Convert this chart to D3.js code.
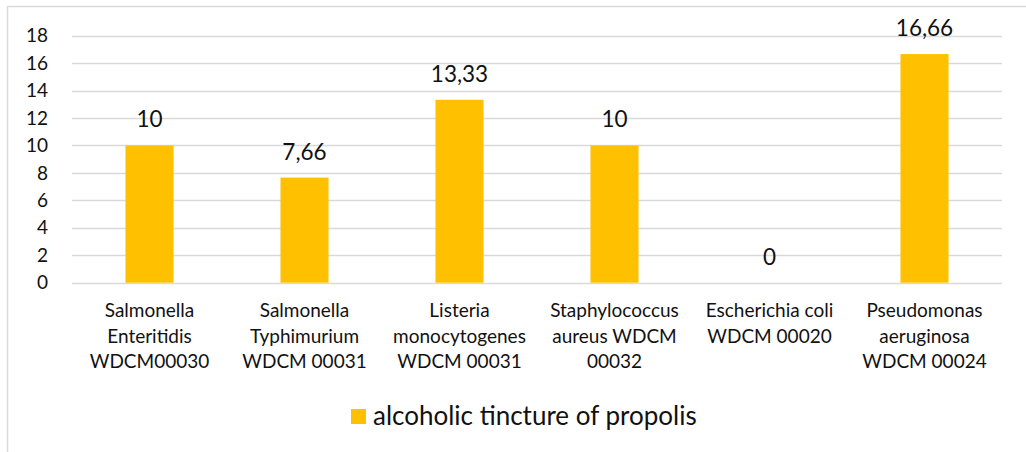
<!DOCTYPE html>
<html>
<head>
<meta charset="utf-8">
<script src="https://cdn.jsdelivr.net/npm/d3@7"></script>
<style>
  body { margin: 0; background: #fff; }
  svg { display: block; font-family: Lato, "Noto Sans", sans-serif; }
</style>
</head>
<body>
<div id="container"></div>
<script>
// chart data
const categories = [
  "Salmonella\nEnteritidis\nWDCM00030",
  "Salmonella\nTyphimurium\nWDCM 00031",
  "Listeria\nmonocytogenes\nWDCM 00031",
  "Staphylococcus\naureus WDCM\n00032",
  "Escherichia coli\nWDCM 00020",
  "Pseudomonas\naeruginosa\nWDCM 00024"
];
const values = [10, 7.66, 13.33, 10, 0, 16.66];
const labels = ["10", "7,66", "13,33", "10", "0", "16,66"];
const yTicks = [0, 2, 4, 6, 8, 10, 12, 14, 16, 18];
const seriesName = "alcoholic tincture of propolis";

let width = 1026;
let height = 452;

const barColor = "#FFC000";
const gridColor = "#D9D9D9";
const textColor = "#111";

const svg = d3.select("#container").append("svg")
  .attr("width", width)
  .attr("height", height);

// outer chart frame (cut off at right and bottom in the original)
svg.append("rect")
  .attr("x", 7.5)
  .attr("y", 6.5)
  .attr("width", width + 20)
  .attr("height", height + 20)
  .attr("fill", "none")
  .attr("stroke", gridColor)
  .attr("stroke-width", 1.5);

const x = d3.scaleBand()
  .domain(categories)
  .range([72, 1002])
  .paddingInner(0.69)
  .paddingOuter(0.345);

const y = d3.scaleLinear()
  .domain([0, 18])
  .range([282.7, 35.7]);

// gridlines
svg.append("g")
  .selectAll("line")
  .data(yTicks)
  .join("line")
  .attr("x1", 72)
  .attr("x2", 1002)
  .attr("y1", d => Math.round(y(d)) + 0.5)
  .attr("y2", d => Math.round(y(d)) + 0.5)
  .attr("stroke", gridColor)
  .attr("stroke-width", 1.5);

// y axis labels
const yAxis = svg.append("g")
  .attr("transform", "translate(48,0)")
  .call(d3.axisLeft(y).tickValues(yTicks).tickSize(0).tickPadding(0));
yAxis.select(".domain").remove();
yAxis.selectAll("text")
  .attr("font-family", "Lato, sans-serif")
  .attr("font-size", 19)
  .attr("fill", textColor);

// bars
svg.append("g")
  .selectAll("rect")
  .data(values)
  .join("rect")
  .attr("x", (d, i) => x(categories[i]))
  .attr("width", x.bandwidth())
  .attr("y", d => y(d))
  .attr("height", d => y(0) - y(d))
  .attr("fill", barColor);

// value labels
svg.append("g")
  .selectAll("text")
  .data(values)
  .join("text")
  .attr("x", (d, i) => x(categories[i]) + x.bandwidth() / 2)
  .attr("y", d => y(d) - 18)
  .attr("text-anchor", "middle")
  .attr("font-size", 22.5)
  .attr("fill", textColor)
  .text((d, i) => labels[i]);

// category labels
const cat = svg.append("g")
  .selectAll("text")
  .data(categories)
  .join("text")
  .attr("x", d => x(d) + x.bandwidth() / 2)
  .attr("y", 317)
  .attr("text-anchor", "middle")
  .attr("font-size", 19)
  .attr("fill", textColor);

cat.selectAll("tspan")
  .data(d => d.split("\n").map(line => ({line, x: x(d) + x.bandwidth() / 2})))
  .join("tspan")
  .attr("x", d => d.x)
  .attr("dy", (d, i) => i === 0 ? 0 : 25.5)
  .text(d => d.line);

// legend
const legend = svg.append("g");
legend.append("rect")
  .attr("x", 351)
  .attr("y", 409)
  .attr("width", 15)
  .attr("height", 15)
  .attr("fill", barColor);
legend.append("text")
  .attr("x", 373)
  .attr("y", 425)
  .attr("font-size", 26)
  .attr("fill", textColor)
  .text(seriesName);
</script>
</body>
</html>
